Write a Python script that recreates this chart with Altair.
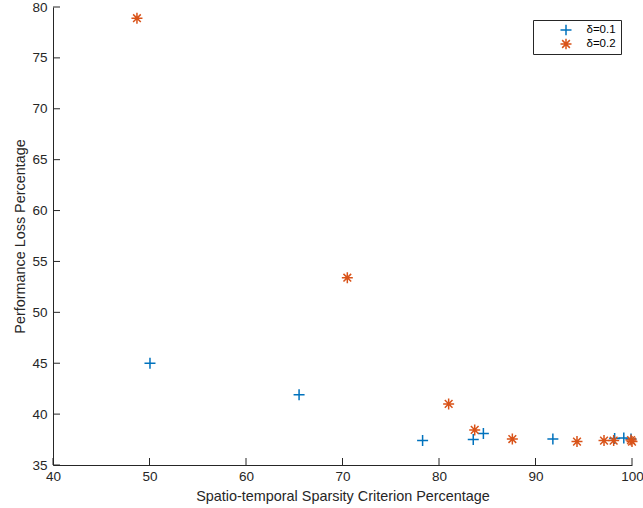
import altair as alt
import pandas as pd

# ---- data ----
series_names = ["δ=0.1", "δ=0.2"]

d1_x = [50.05, 65.5, 78.3, 83.55, 84.6, 91.8, 98.2, 99.15, 99.9]
d1_y = [45.0, 41.9, 37.4, 37.5, 38.1, 37.55, 37.6, 37.65, 37.55]

d2_x = [48.7, 70.5, 81.0, 83.7, 87.6, 94.3, 97.1, 98.1, 99.9, 100.0]
d2_y = [78.9, 53.4, 41.0, 38.45, 37.55, 37.3, 37.4, 37.4, 37.45, 37.3]

x_ticks = [40, 50, 60, 70, 80, 90, 100]
y_ticks = [35, 40, 45, 50, 55, 60, 65, 70, 75, 80]

x_title = "Spatio-temporal Sparsity Criterion Percentage"
y_title = "Performance Loss Percentage"

colors = ["#0072BD", "#D95319"]
plus_path = "M-1,0L1,0M0,-1L0,1"
star_path = "M-1,0L1,0M0,-1L0,1M-0.7,-0.7L0.7,0.7M-0.7,0.7L0.7,-0.7"

df = pd.DataFrame({
    "x": d1_x + d2_x,
    "y": d1_y + d2_y,
    "series": [series_names[0]] * len(d1_x) + [series_names[1]] * len(d2_x),
})
xt = pd.DataFrame({"x": x_ticks})
yt = pd.DataFrame({"y": y_ticks})

W, H = 579, 458
FONT = "Liberation Sans"
INK = "#262626"

xscale = alt.Scale(domain=[40, 100], nice=False, zero=False)
yscale = alt.Scale(domain=[35, 80], nice=False, zero=False)

x_axis = alt.Axis(
    title=x_title, values=x_ticks, labelFlush=False, labelPadding=4,
    titleY=31, titleBaseline="middle", titleAlign="center")
y_axis = alt.Axis(
    title=y_title, values=y_ticks, labelPadding=6,
    titleX=-33, titleY=H / 2, titleAngle=270, titleBaseline="middle", titleAlign="center")

legend = alt.Legend(
    title=None, orient="none", legendX=480, legendY=13,
    strokeColor=INK, fillColor="white", padding=4.5, rowPadding=2,
    clipHeight=11,
    symbolOffset=22, labelOffset=14, symbolSize=121, symbolStrokeWidth=1.5,
    labelFont=FONT, labelFontSize=11.5, labelColor="#000000",
)

points = alt.Chart(df).mark_point(filled=False, size=121, strokeWidth=1.5, opacity=1).encode(
    x=alt.X("x:Q", scale=xscale, axis=x_axis),
    y=alt.Y("y:Q", scale=yscale, axis=y_axis),
    color=alt.Color("series:N", scale=alt.Scale(domain=series_names, range=colors), legend=legend),
    shape=alt.Shape("series:N", scale=alt.Scale(domain=series_names, range=[plus_path, star_path]), legend=legend),
)

ytick_rules = alt.Chart(yt).mark_rule(color=INK, strokeWidth=1).encode(
    y=alt.Y("y:Q", scale=yscale, axis=y_axis),
    x=alt.value(0), x2=alt.value(7),
)
xtick_rules = alt.Chart(xt).mark_rule(color=INK, strokeWidth=1).encode(
    x=alt.X("x:Q", scale=xscale, axis=x_axis),
    y=alt.value(H), y2=alt.value(H - 7),
)

chart = alt.layer(points, ytick_rules, xtick_rules).properties(
    width=W, height=H,
    padding={"left": 53, "top": 7, "right": 11, "bottom": 43},
    autosize=alt.AutoSizeParams(type="none"),
    background="white",
).configure_view(stroke=None).configure_axis(
    grid=False, ticks=False, domainColor=INK, domainWidth=1,
    labelColor=INK, titleColor=INK, labelFont=FONT, titleFont=FONT,
    labelFontSize=13.5, titleFontSize=14.4, titleFontWeight="normal",
)

chart.save("out.html", embed_options={"renderer": "svg", "actions": False})
